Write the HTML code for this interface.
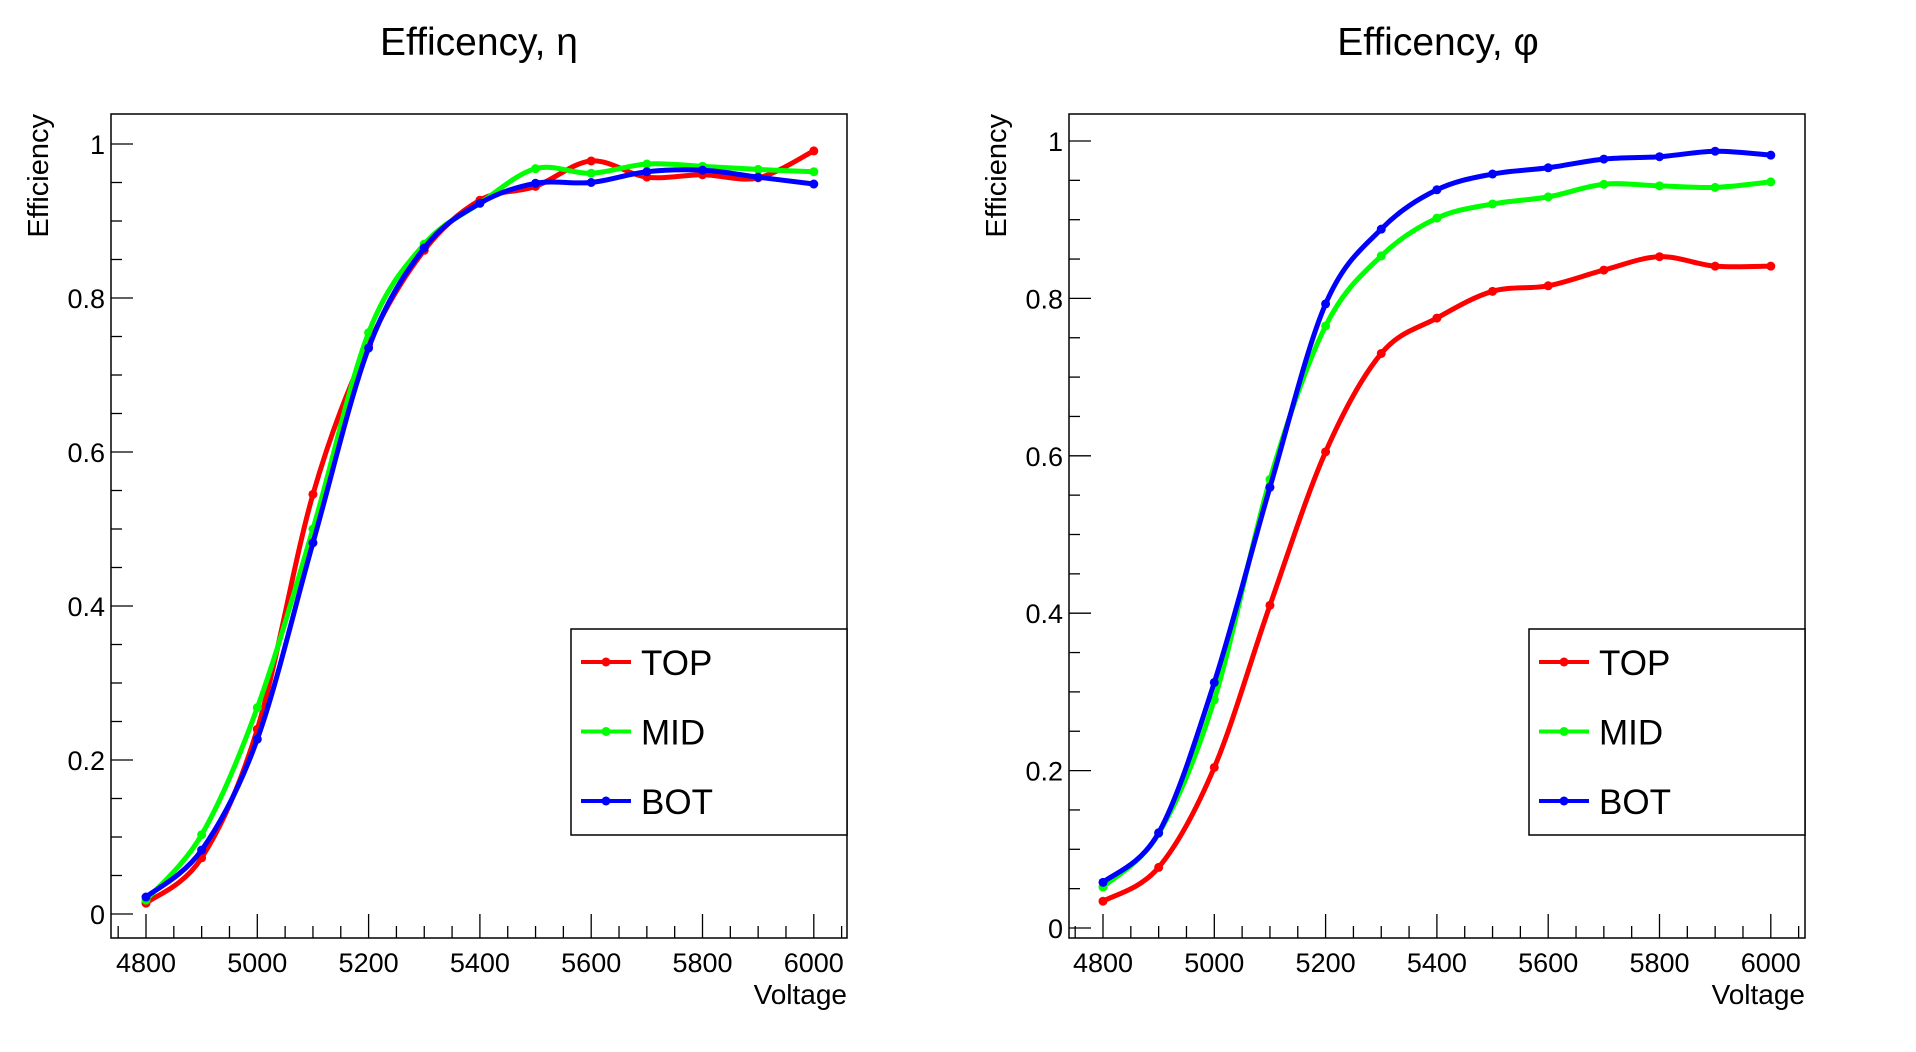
<!DOCTYPE html>
<html><head><meta charset="utf-8"><style>
html,body{margin:0;padding:0;background:#fff;}
svg{display:block;font-family:"Liberation Sans",Arial,sans-serif;}
</style></head><body>
<svg id="c" width="1916" height="1052" viewBox="0 0 1916 1052"></svg>
<script>
const voltages=[4800,4900,5000,5100,5200,5300,5400,5500,5600,5700,5800,5900,6000];
const etaTop=[0.014,0.073,0.24,0.545,0.74,0.862,0.927,0.945,0.978,0.957,0.960,0.956,0.991];
const etaMid=[0.018,0.103,0.268,0.50,0.755,0.87,0.923,0.968,0.962,0.974,0.971,0.967,0.964];
const etaBot=[0.022,0.083,0.227,0.482,0.735,0.865,0.923,0.949,0.950,0.964,0.966,0.957,0.948];
const phiTop=[0.034,0.077,0.204,0.41,0.605,0.73,0.775,0.809,0.816,0.836,0.853,0.841,0.841];
const phiMid=[0.052,0.12,0.29,0.57,0.765,0.854,0.902,0.920,0.929,0.945,0.943,0.941,0.948];
const phiBot=[0.058,0.121,0.312,0.56,0.793,0.888,0.938,0.958,0.966,0.977,0.980,0.987,0.982];
const xTicks=[4800,5000,5200,5400,5600,5800,6000];
const yTicks=[0,0.2,0.4,0.6,0.8,1];
const yTickLabels=["0","0.2","0.4","0.6","0.8","1"];
const seriesNames=["TOP","MID","BOT"];
const colors=["#ff0000","#00ff00","#0000ff"];

const NS="http://www.w3.org/2000/svg";
const svg=document.getElementById('c');
function mk(tag,attrs,parent){const e=document.createElementNS(NS,tag);for(const k in attrs)e.setAttribute(k,attrs[k]);(parent||svg).appendChild(e);return e;}

function panel(cfg){
  const g=mk('g',{});
  
  
  const L=cfg.left,R=cfg.left+736,T=114,B=938;
  const xS=v=>cfg.x4800+(v-4800)*0.5565;
  const yS=v=>cfg.y0-v*cfg.yScale;
  const title=mk('text',{x:cfg.titleX,y:55,'font-size':39,'text-anchor':'middle',fill:'#000'},g);
  title.textContent=cfg.title;
  
  
  const frame=mk('rect',{x:L,y:T,width:R-L,height:B-T,fill:'none',stroke:'#000','stroke-width':1.5},g);
  
  
  for(let v=4750;v<=6050;v+=50){
    const x=xS(v); if(x<L||x>R)continue;
    const major=(v%200===0);
    const t=mk('line',{x1:x,x2:x,y1:B,y2:B-(major?24:12),stroke:'#000','stroke-width':1.3},g);
    
    
  }
  xTicks.forEach(v=>{
    const t=mk('text',{x:xS(v),y:972,'font-size':27,'text-anchor':'middle',fill:'#000'},g);
    t.textContent=v;
    
    
  });
  for(let i=0;i<=20;i++){
    const v=i*0.05;const y=yS(v);
    const major=(i%4===0);
    const t=mk('line',{x1:L,x2:L+(major?22:11),y1:y,y2:y,stroke:'#000','stroke-width':1.3},g);
    
    
  }
  yTicks.forEach((v,i)=>{
    const t=mk('text',{x:L-6,y:yS(v)+10,'font-size':27,'text-anchor':'end',fill:'#000'},g);
    t.textContent=yTickLabels[i];
    
    
  });
  const xt=mk('text',{x:R,y:1004,'font-size':28,'text-anchor':'end',fill:'#000'},g);
  xt.textContent='Voltage';
  
  
  const yt=mk('text',{x:0,y:0,'font-size':29,'text-anchor':'end',fill:'#000',transform:`translate(${L-63},${T}) rotate(-90)`},g);
  yt.textContent='Efficiency';
  
  
  cfg.series.forEach((vals,si)=>{
    const pts=voltages.map((v,i)=>[xS(v),yS(vals[i])]);
    let d=`M${pts[0][0]},${pts[0][1]}`;
    for(let i=0;i<pts.length-1;i++){
      const p0=pts[Math.max(0,i-1)],p1=pts[i],p2=pts[i+1],p3=pts[Math.min(pts.length-1,i+2)];
      const c1=[p1[0]+(p2[0]-p0[0])/6,p1[1]+(p2[1]-p0[1])/6];
      const c2=[p2[0]-(p3[0]-p1[0])/6,p2[1]-(p3[1]-p1[1])/6];
      d+=` C${c1[0]},${c1[1]} ${c2[0]},${c2[1]} ${p2[0]},${p2[1]}`;
    }
    const line=mk('path',{d:d,fill:'none',stroke:colors[si],'stroke-width':5,'stroke-linejoin':'round'},g);
    
    
    pts.forEach(p=>{
      const c=mk('circle',{cx:p[0],cy:p[1],r:4.5,fill:colors[si]},g);
      
      
    });
  });
  const lg=mk('g',{},g);
  
  
  const lx=cfg.legendX;
  mk('rect',{x:lx,y:629,width:R-lx,height:206,fill:'#fff',stroke:'#000','stroke-width':1.5},lg);
  seriesNames.forEach((n,i)=>{
    const y=662+i*69.5;
    const e=mk('g',{},lg);
    
    
    mk('line',{x1:lx+10,x2:lx+60,y1:y,y2:y,stroke:colors[i],'stroke-width':4},e);
    mk('circle',{cx:lx+35,cy:y,r:4.5,fill:colors[i]},e);
    const t=mk('text',{x:lx+70,y:y+13,'font-size':35,fill:'#000'},e);
    t.textContent=n;
  });
}
panel({name:'eta-efficiency-chart',title:'Efficency, η',titleX:479,left:111,x4800:146,y0:914,yScale:770,legendX:571,series:[etaTop,etaMid,etaBot]});
panel({name:'phi-efficiency-chart',title:'Efficency, φ',titleX:1438,left:1069,x4800:1103,y0:928,yScale:787,legendX:1529,series:[phiTop,phiMid,phiBot]});
</script>
</body></html>
